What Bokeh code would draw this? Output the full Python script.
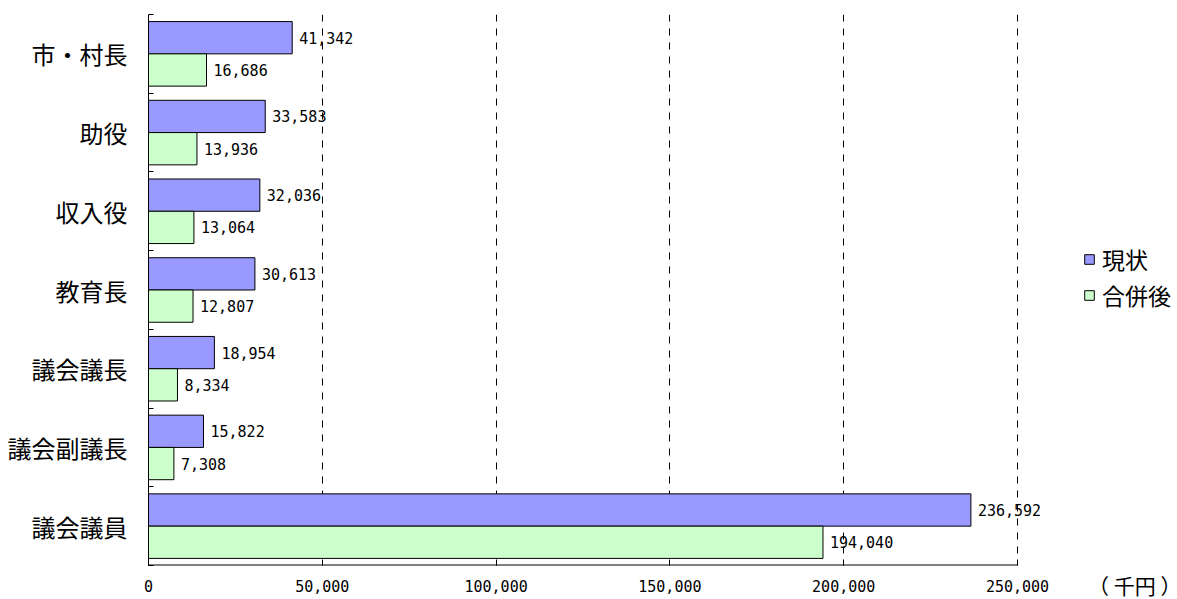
from bokeh.plotting import figure
from bokeh.models import (Range1d, FixedTicker, NumeralTickFormatter, ColumnDataSource,
                          LabelSet, Title)
from bokeh.core.properties import value
from bokeh.embed import file_html
from bokeh.resources import INLINE

# ---- data ----
categories = ["市・村長", "助役", "収入役", "教育長", "議会議長", "議会副議長", "議会議員"]
current = [41342, 33583, 32036, 30613, 18954, 15822, 236592]
merged = [16686, 13936, 13064, 12807, 8334, 7308, 194040]
series_names = ["現状", "合併後"]
x_ticks = [0, 50000, 100000, 150000, 200000, 250000]
unit_label = "（ 千円 ）"

# ---- layout helpers ----
n = len(categories)
centers = [i + 0.5 for i in range(n)]
boundaries = list(range(n + 1))
bar_h = 0.41
dodge = 0.205

AXIS_PX = 869          # pixels from 0 to the last tick
FRAME_PX = 1029        # frame width (extends right for labels / legend)
x_end = x_ticks[-1] * FRAME_PX / AXIS_PX

CJK = "Noto Sans CJK JP"
NUM = "'DejaVu Sans Mono', 'Noto Sans CJK JP'"

p = figure(frame_width=FRAME_PX, frame_height=551,
           x_range=Range1d(x_ticks[0], x_end), y_range=Range1d(n, 0),
           output_backend="svg", toolbar_location=None,
           min_border_left=148, min_border_right=0,
           min_border_top=14, min_border_bottom=34)
p.outline_line_color = None
p.background_fill_color = "white"

src_cur = ColumnDataSource(dict(y=[c - dodge for c in centers], v=current,
                                t=[f"{v:,}" for v in current]))
src_mer = ColumnDataSource(dict(y=[c + dodge for c in centers], v=merged,
                                t=[f"{v:,}" for v in merged]))

# grid
p.ygrid.grid_line_color = None
p.xgrid.ticker = FixedTicker(ticks=x_ticks[1:])
p.xgrid.grid_line_color = "black"
p.xgrid.grid_line_dash = "7 7"
p.xgrid.grid_line_width = 1

p.hbar(y="y", right="v", left=0, height=bar_h, source=src_cur,
       fill_color="#9999FF", line_color="black", line_width=1,
       legend_label=series_names[0])
p.hbar(y="y", right="v", left=0, height=bar_h, source=src_mer,
       fill_color="#CCFFCC", line_color="black", line_width=1,
       legend_label=series_names[1])

# bottom axis line (only up to the last tick)
p.segment(x0=[x_ticks[0]], x1=[x_ticks[-1]], y0=[n], y1=[n],
          line_color="black", line_width=2)

for src in (src_cur, src_mer):
    p.add_layout(LabelSet(x="v", y="y", text="t", source=src, x_offset=7,
                          text_baseline="middle", text_font=value(NUM),
                          text_font_size="15px", text_color="black"))

# x axis
xa = p.xaxis[0]
xa.ticker = FixedTicker(ticks=x_ticks)
xa.formatter = NumeralTickFormatter(format="0,0")
xa.major_tick_in = 6
xa.major_tick_out = 0
xa.major_tick_line_color = "black"
xa.minor_tick_line_color = None
xa.axis_line_color = None
xa.major_label_standoff = 14
xa.major_label_text_font = NUM
xa.major_label_text_font_size = "15px"
xa.major_label_text_color = "black"

# unit label, on the same line as the x tick labels
p.add_layout(Title(text=unit_label, align="right", offset=-4, standoff=-50,
                   vertical_align="top", text_font=CJK, text_font_size="21px",
                   text_font_style="normal", text_color="black"), "below")

# y axis
ya = p.yaxis[0]
ya.ticker = FixedTicker(ticks=centers, minor_ticks=boundaries)
ya.major_label_overrides = {c: name for c, name in zip(centers, categories)}
ya.major_tick_line_color = None
ya.minor_tick_in = 5
ya.minor_tick_out = 0
ya.minor_tick_line_color = "black"
ya.axis_line_color = "black"
ya.major_label_standoff = 15
ya.major_label_text_font = CJK
ya.major_label_text_font_size = "24px"
ya.major_label_text_color = "black"

# legend
lg = p.legend[0]
lg.location = (935, 253)
lg.border_line_color = None
lg.background_fill_alpha = 0
lg.padding = 0
lg.margin = 0
lg.spacing = 2
lg.label_height = 22
lg.glyph_width = 12
lg.glyph_height = 12
lg.label_standoff = 7
lg.label_text_font = CJK
lg.label_text_font_size = "23px"
lg.label_text_color = "black"

open("out.html", "w").write(file_html(p, INLINE))
